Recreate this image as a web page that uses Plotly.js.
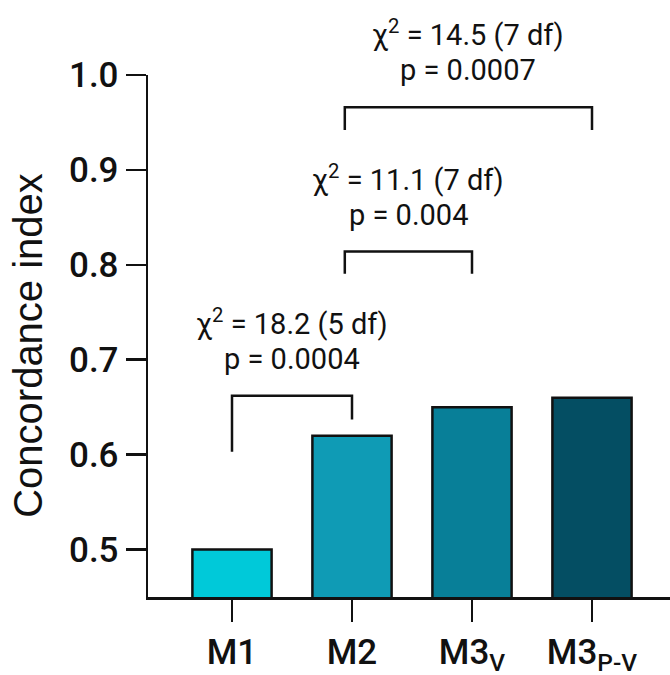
<!DOCTYPE html>
<html>
<head>
<meta charset="utf-8">
<script src="https://cdn.plot.ly/plotly-3.0.1.min.js"></script>
<style>html,body{margin:0;padding:0;background:#fff;}#chart{width:670px;height:675px;}</style>
</head>
<body>
<div id="chart"></div>
<script>
// ---- data ----
const categories = ["M1", "M2", "M3<sub>V</sub>", "M3<sub>P-V</sub>"];
const cIndex = [0, 1, 2, 3];
const concordance = [0.50, 0.62, 0.65, 0.66];
const barColors = ["#00C9D9", "#0F9BB5", "#087F98", "#044E63"];
const yTicks = [0.5, 0.6, 0.7, 0.8, 0.9, 1.0];

// comparisons (likelihood ratio tests)
const chi2 = ["18.2", "11.1", "14.5"];
const dfs = [5, 7, 7];
const pvals = ["0.0004", "0.004", "0.0007"];
const cmpFrom = [0, 0.94, 0.94];
const cmpTo = [1, 2, 3];
const cmpTop = [0.662, 0.814, 0.966];
const cmpLeftEnd = [0.603, 0.7905, 0.942];
const cmpRightEnd = [0.637, 0.7905, 0.942];

const numFont = "Roboto, 'DejaVu Sans', sans-serif";

const shapes = [];
const annotations = [];
for (let i = 0; i < chi2.length; i++) {
  shapes.push({
    type: "path", xref: "x", yref: "y",
    path: `M ${cmpFrom[i]} ${cmpLeftEnd[i]} L ${cmpFrom[i]} ${cmpTop[i]} L ${cmpTo[i]} ${cmpTop[i]} L ${cmpTo[i]} ${cmpRightEnd[i]}`,
    line: {color: "#111", width: 2.5}
  });
  const mid = (cmpFrom[i] + cmpTo[i]) / 2;
  annotations.push({
    x: mid, y: cmpTop[i], xref: "x", yref: "y", showarrow: false,
    text: `χ<sup>2</sup> = ${chi2[i]} (${dfs[i]} df)`,
    yanchor: "middle", xanchor: "center", yshift: 74,
    font: {family: numFont, size: 29, color: "#111"}
  });
  annotations.push({
    x: mid, y: cmpTop[i], xref: "x", yref: "y", showarrow: false,
    text: `p = ${pvals[i]}`,
    yanchor: "middle", xanchor: "center", yshift: 37,
    font: {family: numFont, size: 29, color: "#111"}
  });
}
annotations.push({
  xref: "paper", yref: "paper", x: -0.23, y: 0.483, showarrow: false,
  text: "Concordance index", textangle: -90,
  xanchor: "center", yanchor: "middle",
  font: {family: "'Liberation Sans', Arial, sans-serif", size: 40, color: "#111"}
});

const trace = {
  type: "bar", x: cIndex, y: concordance, width: 0.66,
  marker: {color: barColors, line: {color: "#111", width: 2.5}},
  hoverinfo: "skip"
};

const layout = {
  width: 670, height: 675,
  margin: {l: 148, r: 0, t: 75, b: 78},
  paper_bgcolor: "#fff", plot_bgcolor: "#fff",
  showlegend: false,
  xaxis: {
    range: [-0.7, 3.65], tickvals: cIndex, ticktext: categories,
    showline: true, linecolor: "#111", linewidth: 2.5,
    ticks: "outside", ticklen: 22, tickwidth: 2.5, tickcolor: "#111",
    showgrid: false, zeroline: false,
    tickfont: {family: numFont, size: 35, color: "#111", weight: 500}
  },
  yaxis: {
    range: [0.45, 1.0], tickvals: yTicks, tickformat: ".1f",
    showline: true, linecolor: "#111", linewidth: 2.5,
    ticks: "outside", ticklen: 20, tickwidth: 2.5, tickcolor: "#111",
    showgrid: false, zeroline: false,
    tickfont: {family: numFont, size: 35, color: "#111", weight: 500}
  },
  shapes: shapes,
  annotations: annotations
};

Plotly.newPlot("chart", [trace], layout, {displayModeBar: false, staticPlot: true});
</script>
</body>
</html>
